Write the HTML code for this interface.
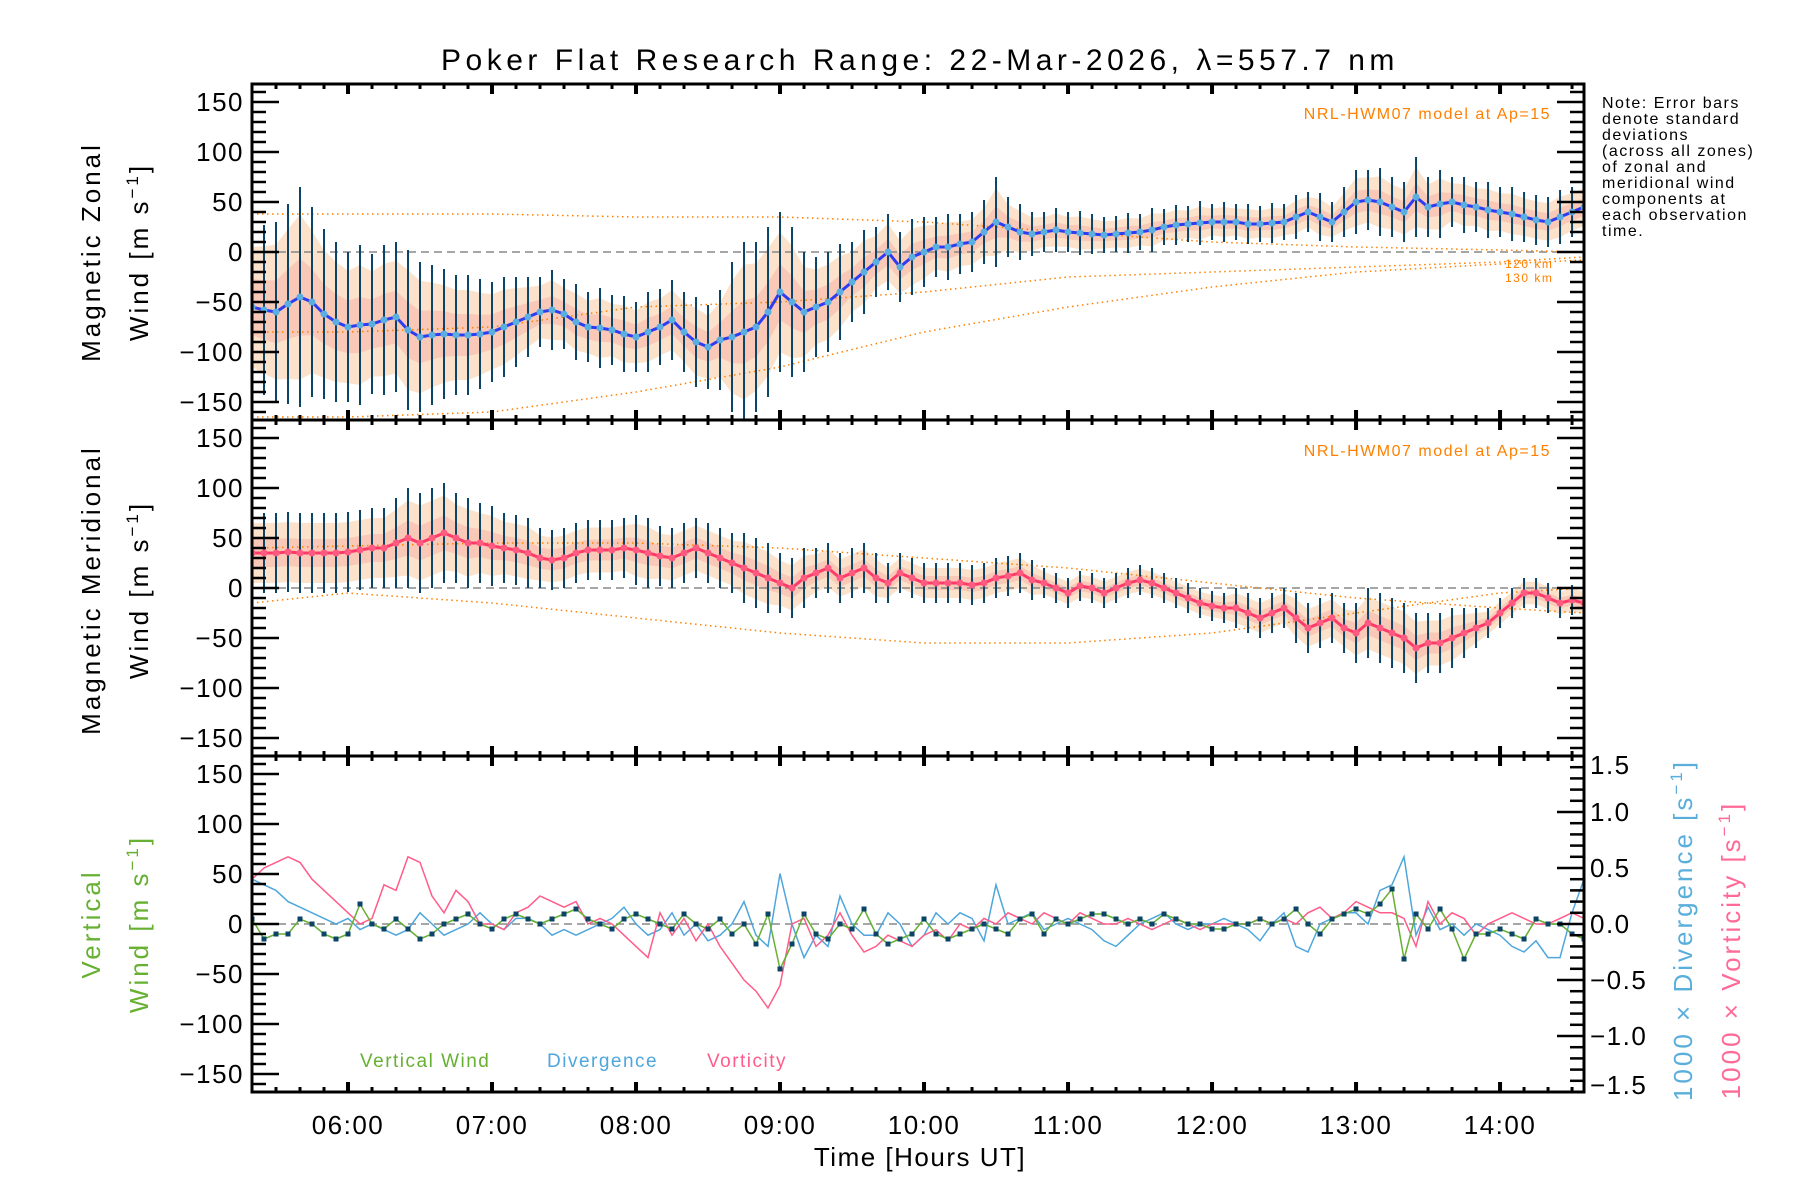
<!DOCTYPE html>
<html><head><meta charset="utf-8">
<style>
html,body{margin:0;padding:0;background:#fff;}
svg{display:block;font-family:"Liberation Sans",sans-serif;}
svg text{letter-spacing:1.5px;}
</style></head>
<body>
<svg id="chart" width="1800" height="1200" viewBox="0 0 1800 1200" xmlns="http://www.w3.org/2000/svg">
<text x="920" y="70" font-size="30" text-anchor="middle" fill="#000" style="letter-spacing:4.5px">Poker Flat Research Range: 22-Mar-2026, λ=557.7 nm</text>
<g id="layer"></g>
<g font-size="16" fill="#000">
<text x="1602" y="108">Note: Error bars</text>
<text x="1602" y="124">denote standard</text>
<text x="1602" y="140">deviations</text>
<text x="1602" y="156">(across all zones)</text>
<text x="1602" y="172">of zonal and</text>
<text x="1602" y="188">meridional wind</text>
<text x="1602" y="204">components at</text>
<text x="1602" y="220">each observation</text>
<text x="1602" y="236">time.</text>
</g>
</svg>
<script>
// ---- data (5-minute samples starting 05:20 UT) ----
const startHour = 5 + 20/60;
const stepHours = 5/60;
const zonalMean = [
-55,-58,-60,-52,-45,-50,-62,-70,-75,-73,-72,-68,
-65,-78,-85,-83,-82,-83,-83,-82,-80,-75,-70,-65,
-60,-58,-62,-70,-75,-76,-78,-82,-85,-80,-75,-68,
-80,-90,-95,-88,-85,-80,-75,-60,-40,-50,-60,-55,
-50,-40,-30,-20,-10,0,-15,-5,0,5,5,8,
10,20,30,25,20,18,20,22,20,19,18,17,
18,19,20,22,25,27,28,29,30,30,30,28,
28,29,30,35,40,35,30,40,50,52,50,45,
40,55,45,48,50,47,45,42,40,38,35,32,
30,35,40,45];
const zonalStd = [
80,85,90,100,110,95,85,80,75,80,70,75,
75,80,75,70,65,60,60,55,50,50,45,40,
35,40,35,38,35,40,35,38,35,40,38,40,
40,45,42,50,75,90,85,85,80,75,60,50,
50,48,40,42,35,38,35,38,35,30,33,30,
30,32,45,30,28,22,20,22,20,22,20,18,
18,20,18,22,18,20,18,22,18,20,18,20,
18,20,18,22,20,24,20,25,32,30,34,30,
30,40,30,34,25,28,25,28,25,27,25,25,
25,27,25,25];
const meridMean = [
35,35,35,36,35,35,35,35,36,38,40,40,
45,50,45,50,55,50,45,45,42,40,38,35,
30,28,30,35,38,38,38,40,38,35,32,30,
35,40,35,30,25,20,15,10,5,0,10,15,
20,10,15,20,10,5,15,10,5,5,5,5,
3,5,10,12,15,8,5,0,-5,2,0,-5,
0,5,8,5,0,-5,-10,-15,-18,-20,-20,-25,
-30,-25,-20,-30,-40,-35,-30,-40,-45,-35,-40,-45,
-50,-60,-55,-55,-50,-45,-40,-35,-25,-15,-5,-5,
-10,-15,-12,-15];
const meridStd = [
40,40,40,40,40,40,40,40,40,40,40,40,
45,50,50,50,50,45,45,40,40,35,35,35,
30,30,30,30,30,30,30,30,35,35,30,30,
30,30,30,30,30,35,35,35,30,30,30,25,
25,25,25,25,25,20,20,20,20,20,20,20,
20,20,20,20,20,20,15,15,15,15,15,15,
15,15,15,15,15,15,15,15,15,15,20,20,
20,20,20,25,25,25,25,25,30,35,35,35,
35,35,30,30,30,25,20,15,15,15,15,15,
15,15,15,15];
const vertWind = [
5,-15,-10,-10,5,0,-10,-15,-10,20,0,-5,
5,-5,-15,-10,0,5,10,0,-5,5,10,5,
0,5,10,15,5,0,-5,5,10,5,0,-5,
10,0,-5,5,-10,0,-20,10,-45,-20,10,-10,
-15,0,-5,15,-10,-20,-15,-10,5,-10,-15,-10,
-5,0,-5,-10,5,10,-10,5,0,5,10,10,
5,0,5,0,10,5,0,0,-5,-5,0,0,
5,0,5,15,0,-10,5,10,15,10,20,35,
-35,10,-5,15,-5,-35,-10,-10,-5,-10,-15,5,
0,0,-10,-15];
const divergence = [
0.4,0.35,0.3,0.2,0.15,0.1,0.05,0.0,0.05,-0.05,0.0,-0.05,
-0.1,-0.05,0.1,0.0,-0.1,-0.05,0.0,0.1,0.0,-0.05,0.05,0.05,
0.0,-0.1,-0.05,-0.1,-0.05,0.0,0.05,0.15,0.0,-0.1,-0.05,0.1,
-0.1,0.0,-0.15,-0.1,0.0,0.2,-0.1,-0.2,0.45,0.0,-0.3,-0.1,
-0.2,0.25,0.0,-0.1,-0.1,0.1,0.0,-0.2,-0.1,0.1,0.0,0.1,
0.05,-0.15,0.35,0.0,0.05,0.1,-0.05,0.0,0.05,0.0,-0.05,-0.15,
-0.2,-0.1,0.0,0.05,0.1,0.0,-0.05,0.0,0.0,0.05,0.0,-0.05,
-0.15,0.0,0.1,-0.2,-0.25,0.0,0.05,0.1,0.1,0.0,0.3,0.35,
0.6,-0.1,0.15,-0.05,0.0,-0.1,0.0,-0.05,-0.1,-0.2,-0.25,-0.15,
-0.3,-0.3,0.1,0.4];
const vorticity = [
0.4,0.5,0.55,0.6,0.55,0.4,0.3,0.2,0.1,0.0,0.05,0.35,
0.3,0.6,0.55,0.25,0.1,0.3,0.2,0.0,0.0,-0.05,0.1,0.15,
0.25,0.2,0.15,0.2,0.0,0.05,0.0,-0.1,-0.2,-0.3,0.1,-0.1,
0.05,-0.15,0.0,-0.2,-0.35,-0.5,-0.6,-0.75,-0.55,0.0,0.05,-0.2,
-0.1,0.1,-0.1,-0.25,-0.2,-0.1,-0.15,-0.2,-0.1,-0.05,-0.15,0.0,
-0.05,0.05,0.0,0.1,0.05,0.0,0.1,0.05,0.0,0.1,0.05,0.0,
0.0,0.05,0.0,-0.05,0.0,0.05,0.0,-0.05,0.0,0.0,0.0,0.0,
0.05,0.0,0.05,0.0,0.1,0.15,0.05,0.1,0.2,0.15,0.1,0.1,
0.05,-0.2,0.2,0.0,0.1,0.05,-0.1,0.0,0.05,0.1,0.05,0.0,
0.0,0.05,0.1,0.05];
// model curves (hour, value)
const modelHours = [5.333,6,7,8,9,10,11,12,13,14,14.583];
const zonalModelA = [38,38,38,35,35,30,20,10,5,2,0];
const zonalModelB = [-165,-165,-160,-140,-115,-80,-55,-35,-20,-12,-8];
const zonalModelC = [-80,-80,-75,-55,-50,-40,-25,-20,-15,-10,-5];
const meridModelA = [40,42,45,45,40,30,20,5,-10,-20,-25];
const meridModelB = [-15,-5,-15,-30,-45,-55,-55,-45,-25,-5,0];
const xTickLabels = ["06:00","07:00","08:00","09:00","10:00","11:00","12:00","13:00","14:00"];
const yTickLabels = [150,100,50,0,-50,-100,-150];
const rTickLabels = ["1.5","1.0","0.5","0.0","−0.5","−1.0","−1.5"];

// ---- geometry ----
const X0=252, X1=1584, H0=startHour, H1=14.583;
const panels=[{top:84,bot:420},{top:420,bot:756},{top:756,bot:1092}];
const YR=168;
const NS="http://www.w3.org/2000/svg";
const layer=document.getElementById('layer');
function xs(h){return X0+(h-H0)/(H1-H0)*(X1-X0);}
function ys(p,v){const P=panels[p];const c=(P.top+P.bot)/2;return c-v/YR*(P.bot-P.top)/2;}
function yr(v){const P=panels[2];return P.bot-(v+1.5)/3*(P.bot-P.top);}
function el(tag,attrs,parent){const e=document.createElementNS(NS,tag);for(const k in attrs)e.setAttribute(k,attrs[k]);(parent||layer).appendChild(e);return e;}
function hourOf(i){return H0+i*stepHours;}

const defs=el('defs',{});
panels.forEach((P,i)=>{const cp=el('clipPath',{id:'cp'+i},defs);el('rect',{x:X0,y:P.top,width:X1-X0,height:P.bot-P.top},cp);});

function drawWindPanel(p,mean,std,lineDark,lineLight,modA,modB,modC,name){
  const g=el('g',{'clip-path':'url(#cp'+p+')'});
  
  
  let up='';
  mean.forEach((m,i)=>{up+=(i?'L':'M')+xs(hourOf(i)).toFixed(1)+','+ys(p,m+std[i]*0.75).toFixed(1);});
  for(let i=mean.length-1;i>=0;i--){up+='L'+xs(hourOf(i)).toFixed(1)+','+ys(p,mean[i]-std[i]*0.75).toFixed(1);}
  const band=el('path',{d:up+'Z',fill:'#fbd8b8','fill-opacity':'0.75'},g);
  
  
  let up2='';
  mean.forEach((m,i)=>{up2+=(i?'L':'M')+xs(hourOf(i)).toFixed(1)+','+ys(p,m+std[i]*0.35).toFixed(1);});
  for(let i=mean.length-1;i>=0;i--){up2+='L'+xs(hourOf(i)).toFixed(1)+','+ys(p,mean[i]-std[i]*0.35).toFixed(1);}
  const band2=el('path',{d:up2+'Z',fill:'#f8a8a0','fill-opacity':'0.45'},g);
  
  
  const z=el('line',{x1:X0,x2:X1,y1:ys(p,0),y2:ys(p,0),stroke:'#888','stroke-width':1.5,'stroke-dasharray':'8,5'},g);
  
  
  [modA,modB,modC].forEach((m)=>{ if(!m) return;
    let d='';m.forEach((v,i)=>{d+=(i?'L':'M')+xs(modelHours[i]).toFixed(1)+','+ys(p,v).toFixed(1);});
    const l=el('path',{d:d,fill:'none',stroke:'#ff8000','stroke-width':1.5,'stroke-dasharray':'1.5,3.5'},g);
    
    
  });
  mean.forEach((m,i)=>{const x=xs(hourOf(i));
    const b=el('line',{x1:x,x2:x,y1:ys(p,m+std[i]),y2:ys(p,m-std[i]),stroke:'#0b4466','stroke-width':2},g);
    
    
  });
  let d='';mean.forEach((m,i)=>{d+=(i?'L':'M')+xs(hourOf(i)).toFixed(1)+','+ys(p,m).toFixed(1);});
  const ml=el('path',{d:d,fill:'none',stroke:lineDark,'stroke-width':3},g);
  
  
  mean.forEach((m,i)=>{
    const c=el('circle',{cx:xs(hourOf(i)),cy:ys(p,m),r:3.5,fill:lineLight},g);
    
    
  });
}
drawWindPanel(0,zonalMean,zonalStd,'#2d3cf0','#5aaee0',zonalModelA,zonalModelB,zonalModelC,'zonal');
drawWindPanel(1,meridMean,meridStd,'#ff3a6a','#ff5a80',meridModelA,meridModelB,null,'meridional');

(function(){
  const p=2;
  const g=el('g',{'clip-path':'url(#cp2)'});
  
  
  const z=el('line',{x1:X0,x2:X1,y1:ys(p,0),y2:ys(p,0),stroke:'#888','stroke-width':1.5,'stroke-dasharray':'8,5'},g);
  
  
  let d='';divergence.forEach((v,i)=>{d+=(i?'L':'M')+xs(hourOf(i)).toFixed(1)+','+yr(v).toFixed(1);});
  const dl=el('path',{d:d,fill:'none',stroke:'#4ea6dc','stroke-width':1.5},g);
  
  
  d='';vorticity.forEach((v,i)=>{d+=(i?'L':'M')+xs(hourOf(i)).toFixed(1)+','+yr(v).toFixed(1);});
  const vl=el('path',{d:d,fill:'none',stroke:'#ff5c8a','stroke-width':1.5},g);
  
  
  d='';vertWind.forEach((v,i)=>{d+=(i?'L':'M')+xs(hourOf(i)).toFixed(1)+','+ys(p,v).toFixed(1);});
  const wl=el('path',{d:d,fill:'none',stroke:'#66b032','stroke-width':1.5},g);
  
  
  vertWind.forEach((v,i)=>{
    const r=el('rect',{x:xs(hourOf(i))-2.5,y:ys(p,v)-2.5,width:5,height:5,fill:'#0b4466'},g);
    
    
  });
})();

panels.forEach((P,p)=>{
  const fr=el('rect',{x:X0,y:P.top,width:X1-X0,height:P.bot-P.top,fill:'none',stroke:'#000','stroke-width':3});
  
  
  for(let v=-160;v<=160;v+=10){const y=ys(p,v);const L=(v%50===0)?27:14;
    el('line',{x1:X0,x2:X0+L,y1:y,y2:y,stroke:'#000','stroke-width':2.5});
    if(p<2) el('line',{x1:X1,x2:X1-L,y1:y,y2:y,stroke:'#000','stroke-width':2.5});
  }
  yTickLabels.forEach(v=>{
    const t=el('text',{x:X0-8,y:ys(p,v)+9,'font-size':26,'text-anchor':'end',fill:'#000'});
    t.textContent=String(v).replace('-','−');
    
    
  });
  for(let m=H0*60+10;m<H1*60;m+=10){const mm=Math.round(m/10)*10;const h=mm/60;const x=xs(h);const major=(mm%60===0);const L=major?10:5;
    el('line',{x1:x,x2:x,y1:P.bot,y2:P.bot-L,stroke:'#000','stroke-width':major?4:3});
    el('line',{x1:x,x2:x,y1:P.top,y2:P.top+L,stroke:'#000','stroke-width':major?4:3});
  }
});
for(let v=-1.5;v<=1.51;v+=0.1){const y=yr(v);const major=Math.abs(Math.round(v*10)%5)===0;
  el('line',{x1:X1,x2:X1-(major?27:14),y1:y,y2:y,stroke:'#000','stroke-width':2.5});}
rTickLabels.forEach((s,i)=>{
  const t=el('text',{x:X1+6,y:yr(1.5-i*0.5)+(i===0?18:(i===6?2:9)),'font-size':26,fill:'#000'});
  t.textContent=s;
  
  
});
xTickLabels.forEach((s,i)=>{
  const t=el('text',{x:xs(6+i),y:1134,'font-size':26,'text-anchor':'middle',fill:'#000'});
  t.textContent=s;
  
  
});
function vtext(x,y,s,col,name){const t=el('text',{x:0,y:0,'font-size':26,'text-anchor':'middle',fill:col,transform:'translate('+x+','+y+') rotate(-90)',style:'letter-spacing:3px'});t.innerHTML=s;return t;}
vtext(100,252,'Magnetic Zonal','#000','zonal-axis-title');
vtext(148,252,'Wind [m s<tspan font-size="17" dy="-10">−1</tspan><tspan dy="10">]</tspan>','#000','zonal-axis-unit');
vtext(100,590,'Magnetic Meridional','#000','meridional-axis-title');
vtext(148,590,'Wind [m s<tspan font-size="17" dy="-10">−1</tspan><tspan dy="10">]</tspan>','#000','meridional-axis-unit');
vtext(100,924,'Vertical','#66b032','vertical-axis-title');
vtext(148,924,'Wind [m s<tspan font-size="17" dy="-10">−1</tspan><tspan dy="10">]</tspan>','#66b032','vertical-axis-unit');
vtext(1692,930,'1000 × Divergence [s<tspan font-size="17" dy="-10">−1</tspan><tspan dy="10">]</tspan>','#5aaedc','divergence-axis-title');
vtext(1740,950,'1000 × Vorticity [s<tspan font-size="17" dy="-10">−1</tspan><tspan dy="10">]</tspan>','#ff6a96','vorticity-axis-title');
function txt(x,y,s,size,col,anchor,name){const t=el('text',{x:x,y:y,'font-size':size,fill:col,'text-anchor':anchor||'start'});t.textContent=s;return t;}
txt(920,1166,'Time [Hours UT]',26,'#000','middle','x-axis-title');
txt(1551,119,'NRL-HWM07 model at Ap=15',16,'#ff8000','end','model-label-zonal');
txt(1551,456,'NRL-HWM07 model at Ap=15',16,'#ff8000','end','model-label-meridional');
txt(1505,268,'120 km',12,'#ff8000','start','model-120km-label');
txt(1505,282,'130 km',12,'#ff8000','start','model-130km-label');
txt(360,1067,'Vertical Wind',19,'#66b032','start','legend-vertical-wind');
txt(547,1067,'Divergence',19,'#4ea6dc','start','legend-divergence');
txt(707,1067,'Vorticity',19,'#ff5c8a','start','legend-vorticity');
</script>
</body></html>
